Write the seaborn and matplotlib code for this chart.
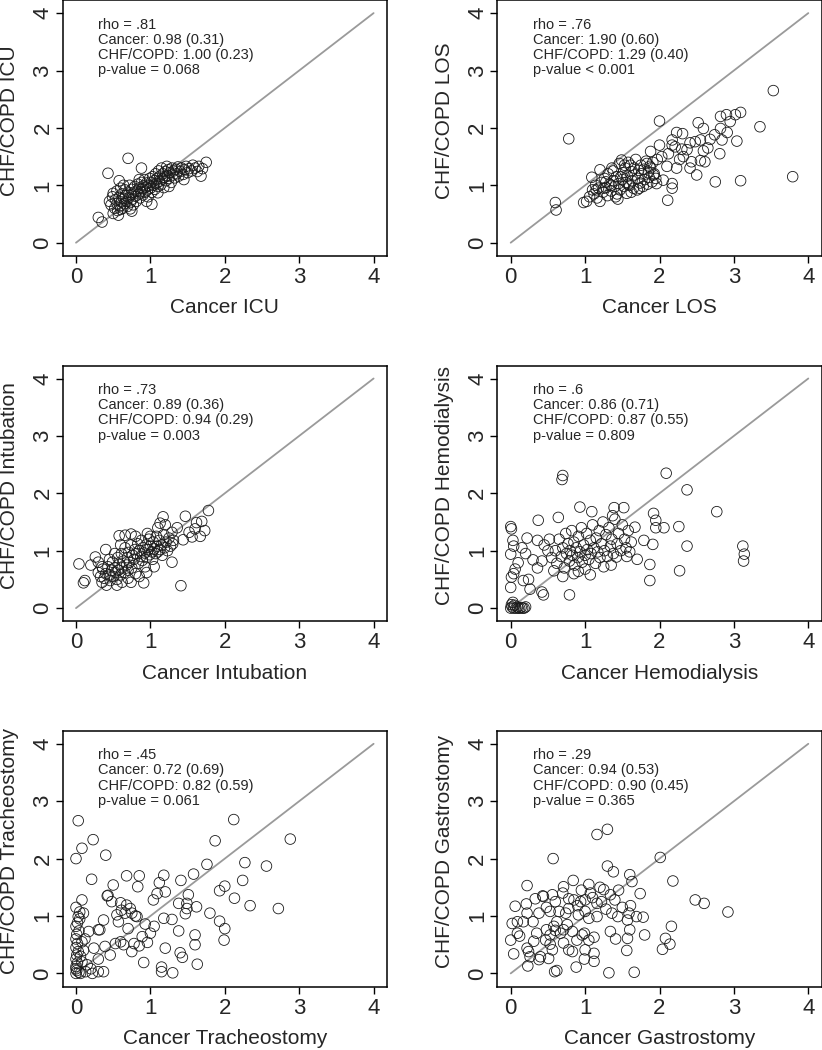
import matplotlib
matplotlib.use("Agg")
import matplotlib.pyplot as plt
import seaborn as sns

# --- donnees (x = Cancer, y = CHF/COPD) ---
icu_pts = [
    (0.30, 0.44), (0.35, 0.36), (0.43, 1.21), (0.70, 1.47), (1.75, 1.40), (1.68, 1.16),
    (1.02, 0.67), (0.88, 1.30), (0.58, 1.08), (0.73, 0.59), (0.50, 0.51), (0.57, 0.48),
    (0.45, 0.72), (0.47, 0.66), (0.49, 0.80), (0.50, 0.86), (0.52, 0.60), (0.53, 0.75),
    (0.55, 0.68), (0.55, 0.90), (0.56, 0.56), (0.58, 0.79), (0.59, 0.64), (0.60, 0.95),
    (0.61, 0.71), (0.62, 0.85), (0.63, 0.60), (0.64, 0.77), (0.65, 0.68), (0.66, 0.92),
    (0.67, 0.82), (0.68, 0.72), (0.69, 0.63), (0.70, 0.88), (0.71, 0.78), (0.72, 1.00),
    (0.73, 0.70), (0.74, 0.84), (0.75, 0.93), (0.76, 0.76), (0.77, 0.66), (0.78, 0.88),
    (0.79, 0.98), (0.80, 0.81), (0.81, 0.72), (0.82, 0.90), (0.83, 1.02), (0.84, 0.85),
    (0.85, 0.95), (0.86, 0.78), (0.87, 0.89), (0.88, 1.05), (0.89, 0.94), (0.90, 0.83),
    (0.91, 0.99), (0.92, 1.10), (0.93, 0.88), (0.94, 0.97), (0.95, 1.04), (0.96, 0.92),
    (0.97, 0.80), (0.98, 1.00), (0.99, 1.12), (1.00, 0.95), (1.01, 1.05), (1.02, 0.88),
    (1.03, 1.15), (1.04, 1.00), (1.05, 1.08), (1.06, 0.93), (1.07, 1.20), (1.08, 1.03),
    (1.09, 1.12), (1.10, 0.98), (1.11, 1.25), (1.12, 1.07), (1.13, 1.16), (1.14, 1.01),
    (1.15, 1.30), (1.16, 1.11), (1.17, 1.20), (1.18, 0.96), (1.19, 1.14), (1.20, 1.24),
    (1.21, 1.08), (1.22, 1.33), (1.23, 1.17), (1.24, 1.27), (1.25, 1.12), (1.26, 1.22),
    (1.28, 1.05), (1.29, 1.30), (1.30, 1.18), (1.31, 1.25), (1.33, 1.13), (1.34, 1.28),
    (1.35, 1.20), (1.37, 1.32), (1.38, 1.16), (1.40, 1.24), (1.42, 1.30), (1.44, 1.19),
    (1.46, 1.27), (1.48, 1.33), (1.50, 1.22), (1.52, 1.29), (1.55, 1.25), (1.57, 1.35),
    (1.60, 1.30), (1.63, 1.24), (1.65, 1.33), (1.70, 1.29), (0.64, 1.00), (0.85, 1.10),
    (0.95, 0.72), (1.10, 0.87), (1.25, 0.98), (0.75, 0.55), (0.60, 0.58), (1.45, 1.10),
]

los_pts = [
    (3.53, 2.65), (0.78, 1.81), (2.00, 2.12), (0.60, 0.70), (0.61, 0.57), (3.79, 1.15),
    (3.35, 2.02), (3.09, 1.08), (2.75, 1.06), (2.11, 0.74), (3.04, 1.77), (2.81, 1.55),
    (2.52, 2.09), (2.59, 1.99), (2.82, 2.20), (2.90, 2.23), (2.95, 2.11), (3.09, 2.27),
    (3.02, 2.23), (2.23, 1.92), (2.31, 1.90), (2.17, 1.79), (2.00, 1.70), (2.17, 1.70),
    (2.41, 1.74), (2.48, 1.76), (2.55, 1.79), (2.68, 1.80), (2.74, 1.88), (2.84, 1.79),
    (2.82, 1.99), (2.91, 1.92), (2.59, 1.60), (2.55, 1.43), (2.61, 1.41), (2.43, 1.41),
    (2.50, 1.18), (2.41, 1.30), (2.32, 1.50), (2.23, 1.30), (2.37, 1.62), (2.30, 1.63),
    (2.21, 1.67), (1.88, 1.59), (2.03, 1.50), (2.10, 1.33), (2.17, 1.03), (2.17, 0.95),
    (2.05, 1.09), (1.96, 1.03), (1.92, 1.18), (1.87, 1.33), (1.83, 1.38), (2.12, 1.55),
    (1.97, 1.45), (2.27, 1.45), (2.65, 1.65),
    (0.98, 0.70), (1.02, 0.72), (1.06, 0.80), (1.09, 1.14), (1.10, 0.92), (1.12, 0.85),
    (1.14, 1.00), (1.16, 0.78), (1.18, 0.95), (1.20, 1.27), (1.20, 0.72), (1.22, 1.05),
    (1.24, 0.88), (1.26, 1.12), (1.28, 0.96), (1.30, 0.82), (1.31, 1.20), (1.33, 1.02),
    (1.35, 0.90), (1.36, 1.30), (1.38, 1.08), (1.40, 0.98), (1.41, 0.80), (1.42, 1.15),
    (1.44, 0.76), (1.45, 1.03), (1.46, 1.38), (1.47, 0.92), (1.49, 1.44), (1.50, 1.10),
    (1.51, 1.22), (1.52, 0.98), (1.54, 1.30), (1.55, 1.05), (1.56, 0.86), (1.57, 1.16),
    (1.58, 1.40), (1.60, 1.00), (1.61, 1.35), (1.62, 1.24), (1.63, 1.08), (1.65, 0.95),
    (1.66, 1.30), (1.67, 1.18), (1.68, 1.45), (1.70, 0.92), (1.71, 1.12), (1.72, 1.26),
    (1.74, 1.04), (1.75, 1.35), (1.76, 1.20), (1.78, 0.98), (1.79, 1.28), (1.80, 1.10),
    (1.82, 1.42), (1.84, 1.02), (1.85, 1.22), (1.86, 1.14), (1.88, 1.30), (1.90, 1.06),
    (1.91, 1.40), (1.93, 1.20), (1.95, 1.12), (1.35, 1.00), (1.25, 0.95), (1.48, 1.15),
    (1.58, 1.02), (1.43, 0.85), (1.15, 0.92), (1.62, 0.88), (1.73, 0.95), (1.28, 1.06),
    (1.53, 1.35), (1.38, 1.25),
]

intub_pts = [
    (1.78, 1.70), (1.47, 1.60), (1.41, 0.39), (0.04, 0.77), (0.10, 0.44), (0.12, 0.48),
    (0.40, 1.02), (0.26, 0.89), (0.20, 0.75), (0.30, 0.80), (1.17, 1.59), (1.13, 1.48),
    (0.58, 1.26), (0.66, 1.27), (0.74, 1.29), (0.91, 0.44), (0.74, 0.45), (1.62, 1.49),
    (1.69, 1.51), (1.73, 1.35), (1.56, 1.24), (1.67, 1.25), (1.44, 1.19), (1.29, 1.32),
    (1.31, 1.18), (1.29, 0.80), (1.00, 1.25), (1.60, 1.38), (1.52, 1.32), (1.10, 1.40),
    (1.20, 1.45), (1.36, 1.40),
    (0.30, 0.62), (0.33, 0.55), (0.35, 0.45), (0.36, 0.68), (0.38, 0.52), (0.40, 0.60),
    (0.41, 0.40), (0.43, 0.72), (0.45, 0.58), (0.46, 0.48), (0.48, 0.66), (0.49, 0.80),
    (0.50, 0.55), (0.52, 0.70), (0.53, 0.62), (0.55, 0.50), (0.56, 0.88), (0.57, 0.66),
    (0.58, 0.76), (0.60, 0.58), (0.61, 0.95), (0.62, 0.70), (0.64, 0.82), (0.65, 0.62),
    (0.66, 1.05), (0.68, 0.75), (0.69, 0.88), (0.70, 0.66), (0.71, 0.97), (0.72, 0.80),
    (0.74, 1.10), (0.75, 0.70), (0.76, 0.92), (0.78, 0.85), (0.79, 1.02), (0.80, 0.60),
    (0.81, 0.95), (0.83, 1.12), (0.84, 0.78), (0.85, 1.00), (0.87, 0.90), (0.88, 1.18),
    (0.89, 0.83), (0.90, 1.05), (0.92, 0.96), (0.93, 0.72), (0.94, 1.10), (0.95, 0.88),
    (0.97, 1.02), (0.98, 1.20), (0.99, 0.93), (1.00, 1.08), (1.02, 0.98), (1.03, 0.85),
    (1.04, 1.15), (1.05, 1.03), (1.07, 0.95), (1.08, 1.25), (1.09, 1.08), (1.10, 0.98),
    (1.12, 1.18), (1.13, 1.02), (1.15, 1.10), (1.16, 0.92), (1.18, 1.28), (1.19, 1.05),
    (1.21, 1.15), (1.23, 1.00), (1.25, 1.22), (1.27, 1.08), (1.30, 1.12), (0.55, 0.40),
    (0.62, 0.45), (0.85, 0.55), (0.95, 0.62), (0.70, 0.52), (1.05, 0.72), (0.45, 0.85),
    (0.52, 0.95), (0.80, 1.25), (0.35, 0.72), (0.96, 1.30), (0.60, 1.10),
]

hemo_pts = [
    (2.09, 2.35), (0.70, 2.31), (0.69, 2.24), (2.37, 2.06), (2.77, 1.68), (3.12, 1.08),
    (3.14, 0.94), (3.13, 0.82), (2.26, 1.42), (2.37, 1.08), (2.27, 0.65), (1.87, 0.48),
    (1.87, 0.76), (1.92, 1.65), (1.95, 1.53), (1.95, 1.40), (2.06, 1.40), (1.91, 1.11),
    (1.79, 1.18), (1.70, 0.85), (1.67, 1.41), (1.39, 1.75), (1.52, 1.75), (1.37, 1.61),
    (0.93, 1.76), (1.09, 1.68), (0.37, 1.53), (0.64, 1.58), (0.00, 1.42), (0.01, 1.38),
    (0.03, 1.18), (0.04, 1.08), (0.00, 0.94), (0.22, 1.22), (0.36, 1.18), (0.30, 0.84),
    (0.36, 0.70), (0.42, 0.82), (0.10, 0.79), (0.06, 0.68), (0.04, 0.60), (0.01, 0.54),
    (0.17, 0.48), (0.24, 0.50), (0.00, 0.36), (0.26, 0.33), (0.42, 0.28), (0.44, 0.23),
    (0.79, 0.23), (1.07, 0.58), (0.91, 0.64), (0.70, 0.55), (1.56, 0.90), (1.42, 0.89),
    (0.00, 0.00), (0.02, 0.02), (0.04, 0.00), (0.05, 0.05), (0.07, 0.00), (0.09, 0.02),
    (0.10, 0.00), (0.12, 0.00), (0.14, 0.01), (0.16, 0.00), (0.18, 0.00), (0.20, 0.02),
    (0.03, 0.10), (0.01, 0.06),
    (0.60, 1.00), (0.62, 0.78), (0.65, 1.20), (0.68, 0.90), (0.70, 1.05), (0.72, 0.70),
    (0.74, 1.30), (0.75, 0.95), (0.77, 1.12), (0.79, 0.82), (0.80, 1.00), (0.82, 1.35),
    (0.83, 0.92), (0.85, 1.15), (0.86, 0.75), (0.88, 1.05), (0.90, 0.88), (0.91, 1.25),
    (0.93, 0.98), (0.95, 1.40), (0.96, 0.80), (0.98, 1.10), (1.00, 0.92), (1.02, 1.30),
    (1.03, 1.02), (1.05, 0.85), (1.07, 1.18), (1.08, 0.95), (1.10, 1.45), (1.12, 1.05),
    (1.14, 0.78), (1.15, 1.22), (1.17, 0.98), (1.19, 1.35), (1.20, 0.88), (1.22, 1.12),
    (1.24, 1.50), (1.26, 1.00), (1.28, 1.28), (1.30, 0.90), (1.32, 1.40), (1.34, 1.08),
    (1.36, 1.20), (1.38, 0.95), (1.40, 1.55), (1.43, 1.12), (1.45, 1.30), (1.48, 1.00),
    (1.50, 1.45), (1.53, 1.20), (1.55, 1.05), (1.58, 1.35), (1.62, 1.15), (0.50, 1.00),
    (0.55, 0.88), (0.45, 1.10), (0.52, 1.20), (0.58, 0.65), (0.20, 0.95), (0.15, 1.05),
    (1.25, 0.72), (1.00, 0.68), (0.85, 0.60), (1.35, 0.75), (1.60, 0.98),
]

trach_pts = [
    (0.03, 2.66), (2.12, 2.68), (0.23, 2.33), (0.08, 2.18), (0.00, 2.00), (0.40, 2.06),
    (1.87, 2.31), (2.88, 2.34), (1.76, 1.90), (2.27, 1.93), (2.56, 1.87), (2.24, 1.62),
    (0.21, 1.64), (0.68, 1.70), (0.85, 1.70), (0.83, 1.51), (0.50, 1.54), (1.18, 1.71),
    (1.12, 1.58), (1.09, 1.39), (1.20, 1.42), (1.41, 1.62), (1.58, 1.73), (1.93, 1.44),
    (2.00, 1.52), (2.13, 1.31), (2.34, 1.18), (2.72, 1.13), (0.43, 1.36), (0.48, 1.25),
    (0.08, 1.28), (0.05, 1.07), (0.03, 0.99), (1.04, 1.28), (1.38, 1.22), (1.51, 1.37),
    (1.49, 1.22), (1.62, 1.16), (1.80, 1.05), (1.93, 0.91), (2.00, 0.78), (1.99, 0.58),
    (1.60, 0.67), (1.60, 0.50), (1.63, 0.16), (1.38, 0.74), (1.40, 0.36), (1.43, 0.28),
    (1.20, 0.44), (1.15, 0.11), (1.15, 0.03), (1.30, 0.01), (0.91, 0.19), (1.18, 0.96),
    (1.29, 0.94), (1.47, 1.04), (1.49, 1.13), (0.68, 1.19), (0.75, 1.05), (0.61, 1.10),
    (0.37, 0.93), (0.32, 0.76), (0.57, 0.90), (0.82, 0.99), (0.93, 0.86), (0.89, 0.64),
    (0.96, 0.54), (0.78, 0.52), (0.75, 0.38), (0.64, 0.50), (0.60, 0.55), (0.53, 0.52),
    (0.46, 0.32), (0.39, 0.47), (0.24, 0.44), (0.30, 0.25), (0.37, 0.03), (0.30, 0.03),
    (0.13, 0.03), (0.06, 0.00), (0.17, 0.73), (0.30, 0.76), (0.55, 1.02), (0.66, 1.05),
    (0.73, 1.13), (0.80, 1.00), (0.42, 1.35), (0.60, 1.23), (1.00, 0.70), (1.05, 0.82),
    (0.70, 0.78), (0.85, 0.48),
    (0.00, 0.00), (0.01, 0.05), (0.00, 0.12), (0.02, 0.18), (0.00, 0.25), (0.01, 0.32),
    (0.03, 0.38), (0.00, 0.45), (0.02, 0.52), (0.00, 0.60), (0.01, 0.68), (0.04, 0.74),
    (0.00, 0.82), (0.02, 0.88), (0.05, 0.95), (0.10, 1.05), (0.00, 1.15), (0.08, 0.20),
    (0.10, 0.40), (0.12, 0.60), (0.15, 0.15), (0.20, 0.08), (0.22, 0.00), (0.06, 0.30),
    (0.08, 0.55), (0.00, 0.08), (0.04, 0.02),
]

gastro_pts = [
    (1.16, 2.42), (1.30, 2.51), (0.57, 2.00), (2.01, 2.02), (1.30, 1.87), (1.38, 1.77),
    (1.60, 1.72), (1.63, 1.60), (2.18, 1.61), (0.84, 1.62), (0.22, 1.53), (0.43, 1.35),
    (1.20, 1.50), (1.05, 1.55), (0.95, 1.45), (0.70, 1.40), (1.45, 1.45), (0.33, 1.30),
    (1.10, 1.32), (0.60, 1.25), (0.78, 1.30), (1.00, 1.28), (1.22, 1.25), (1.40, 1.28),
    (1.50, 1.15), (0.90, 1.18), (1.28, 1.12), (0.48, 1.15), (0.38, 1.05),
    (2.92, 1.07), (2.48, 1.28), (2.60, 1.22), (2.16, 0.82), (2.08, 0.61), (2.14, 0.51),
    (2.04, 0.42), (1.74, 1.39), (1.80, 0.67), (1.66, 0.02), (1.32, 0.01), (0.59, 0.03),
    (0.62, 0.05), (0.23, 0.13), (0.88, 0.11), (1.56, 0.40), (1.41, 0.60), (1.57, 0.61),
    (1.34, 0.73), (1.60, 0.76), (0.04, 0.34), (0.00, 0.58), (0.02, 0.87), (0.06, 1.17),
    (0.09, 0.90), (0.17, 0.90), (0.21, 1.21), (0.22, 1.05), (0.30, 0.90), (0.09, 0.70),
    (0.12, 0.65), (0.22, 0.44), (0.24, 0.38), (0.26, 0.29), (0.38, 0.24), (0.40, 0.29),
    (0.51, 0.26), (0.56, 0.41), (0.31, 0.56), (0.47, 0.58), (0.53, 0.51), (0.35, 0.70),
    (0.48, 0.76), (0.60, 0.75), (0.67, 0.70), (0.78, 0.41), (0.83, 0.38), (0.71, 0.53),
    (0.99, 0.25), (1.12, 0.21), (1.00, 0.41), (1.12, 0.35), (1.05, 0.58), (1.12, 0.63),
    (0.99, 0.70), (1.57, 0.93), (1.59, 1.05), (1.61, 1.18), (1.69, 0.99), (1.78, 0.98),
    (1.36, 1.05), (1.44, 0.99), (1.16, 0.99), (1.05, 0.96), (1.00, 1.08), (0.91, 1.02),
    (0.85, 1.28), (0.94, 1.25), (1.07, 1.40), (1.16, 1.22), (1.25, 1.46), (1.34, 1.37),
    (0.53, 1.08), (0.65, 1.08), (0.74, 1.05), (0.78, 1.13), (0.44, 1.34), (0.56, 1.37),
    (0.71, 1.51), (0.62, 0.90), (0.71, 0.76), (0.76, 0.85), (0.83, 0.73), (0.89, 0.58),
    (0.96, 0.67), (0.53, 0.67), (0.58, 0.82),
]

panel_points = [icu_pts, los_pts, intub_pts, hemo_pts, trach_pts, gastro_pts]
panel_names = ["ICU", "LOS", "Intubation", "Hemodialysis", "Tracheostomy", "Gastrostomy"]
rho_vals = [".81", ".76", ".73", ".6", ".45", ".29"]
cancer_stats = ["0.98 (0.31)", "1.90 (0.60)", "0.89 (0.36)", "0.86 (0.71)", "0.72 (0.69)", "0.94 (0.53)"]
chf_stats = ["1.00 (0.23)", "1.29 (0.40)", "0.94 (0.29)", "0.87 (0.55)", "0.82 (0.59)", "0.90 (0.45)"]
p_texts = ["p-value = 0.068", "p-value < 0.001", "p-value = 0.003",
           "p-value = 0.809", "p-value = 0.061", "p-value = 0.365"]
ticks = [0, 1, 2, 3, 4]
diag = [0, 4]

sns.set_style("white")
plt.rcParams['font.family'] = ['Liberation Sans', 'DejaVu Sans']

W, H = 822, 1050
fig = plt.figure(figsize=(W / 100, H / 100), dpi=100)

# echelle en pixels (mesuree sur l'image)
ux, uy = 74.4, 57.4
xlim = (-0.18, 4.18)
ylim = (-0.23, 4.22)
col_zero = [76.0, 510.7]
row_zero = [242.7, 608.1, 973.4]
fs = 15

for i, pts in enumerate(panel_points):
    r, c = divmod(i, 2)
    left = col_zero[c] + xlim[0] * ux
    width = (xlim[1] - xlim[0]) * ux
    top = row_zero[r] - ylim[1] * uy
    height = (ylim[1] - ylim[0]) * uy
    ax = fig.add_axes([left / W, 1 - (top + height) / H, width / W, height / H])

    xs = [p[0] for p in pts]
    ys = [p[1] for p in pts]
    ax.plot(diag, diag, color='#9a9a9a', lw=1.3, zorder=1)
    sns.scatterplot(x=xs, y=ys, ax=ax, s=58, marker='o', facecolors='none',
                    edgecolor='#1a1a1a', linewidth=0.6, zorder=2)

    ax.set_xlim(*xlim)
    ax.set_ylim(*ylim)
    ax.set_xticks(ticks)
    ax.set_yticks(ticks)
    ax.set_xticklabels([str(t) for t in ticks])
    ax.set_yticklabels([str(t) for t in ticks], rotation=90, va='center')
    ax.tick_params(bottom=True, left=True, direction='out', length=5, width=1.0,
                   labelsize=16, color='black')
    ax.tick_params(axis='x', pad=3)
    ax.tick_params(axis='y', pad=1.5)
    for sp in ax.spines.values():
        sp.set_color('black')
        sp.set_linewidth(1.1)

    ax.set_xlabel("Cancer " + panel_names[i], fontsize=fs, va='center')
    ax.xaxis.set_label_coords(0.5, -52 / height)
    ax.set_ylabel("CHF/COPD " + panel_names[i], fontsize=fs, va='center')
    ax.yaxis.set_label_coords(-53 / width, 0.53)

    lines = ["rho = " + rho_vals[i], "Cancer: " + cancer_stats[i],
             "CHF/COPD: " + chf_stats[i], p_texts[i]]
    for j, line in enumerate(lines):
        ax.text(0.30, 3.80 - j * 0.265, line, fontsize=10.5, va='center', ha='left')

plt.savefig("out.png", dpi=100)
